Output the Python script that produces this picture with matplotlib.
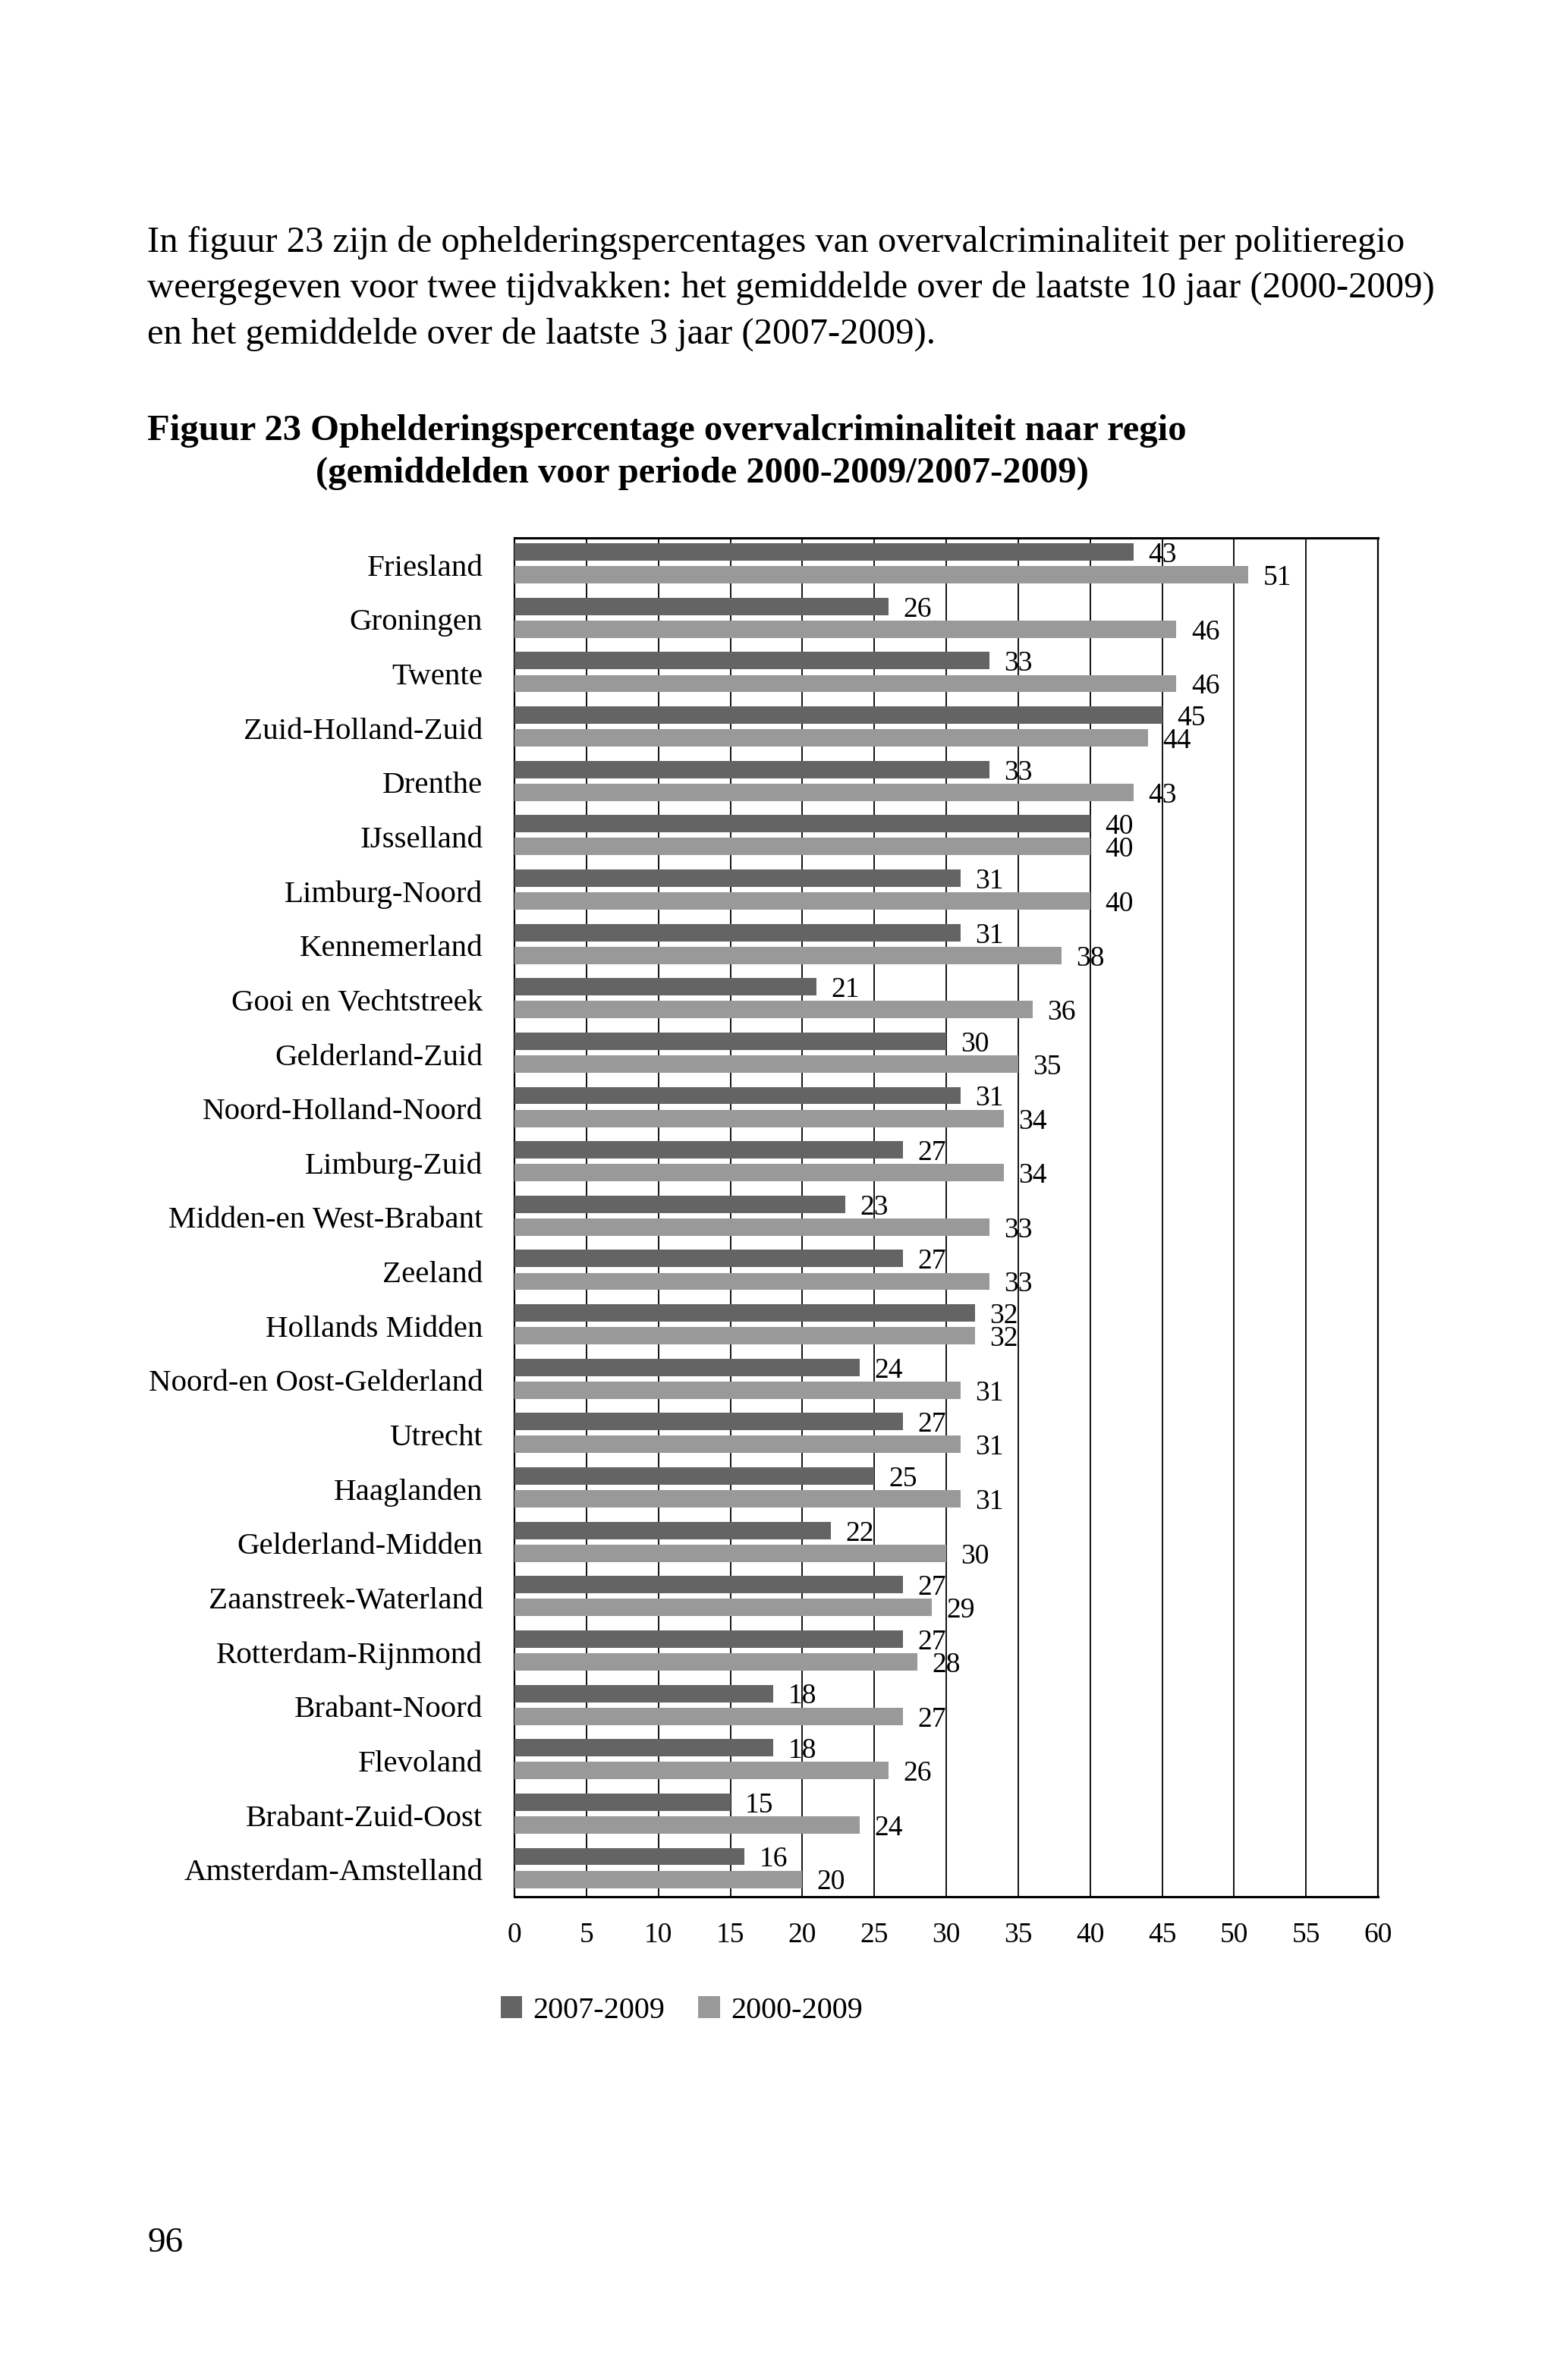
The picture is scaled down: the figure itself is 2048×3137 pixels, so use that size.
import numpy as np
import matplotlib
matplotlib.use('Agg')
import matplotlib.pyplot as plt

plt.rcParams['font.family'] = ['Liberation Serif', 'DejaVu Serif']

regions = ['Friesland', 'Groningen', 'Twente', 'Zuid-Holland-Zuid', 'Drenthe',
           'IJsselland', 'Limburg-Noord', 'Kennemerland', 'Gooi en Vechtstreek',
           'Gelderland-Zuid', 'Noord-Holland-Noord', 'Limburg-Zuid',
           'Midden-en West-Brabant', 'Zeeland', 'Hollands Midden',
           'Noord-en Oost-Gelderland', 'Utrecht', 'Haaglanden', 'Gelderland-Midden',
           'Zaanstreek-Waterland', 'Rotterdam-Rijnmond', 'Brabant-Noord',
           'Flevoland', 'Brabant-Zuid-Oost', 'Amsterdam-Amstelland']
recent = [43, 26, 33, 45, 33, 40, 31, 31, 21, 30, 31, 27, 23, 27, 32, 24, 27, 25,
          22, 27, 27, 18, 18, 15, 16]          # 2007-2009
decade = [51, 46, 46, 44, 43, 40, 40, 38, 36, 35, 34, 34, 33, 33, 32, 31, 31, 31,
          30, 29, 28, 27, 26, 24, 20]          # 2000-2009
xticks = list(range(0, 61, 5))

W, H = 2048, 3137
dark = '#646464'
light = '#999999'

fig = plt.figure(figsize=(W / 100, H / 100), dpi=100)


def fx(x):
    return x / W


def fy(y):
    return 1 - y / H


# page text
body = ['In figuur 23 zijn de ophelderingspercentages van overvalcriminaliteit per politieregio',
        'weergegeven voor twee tijdvakken: het gemiddelde over de laatste 10 jaar (2000-2009)',
        'en het gemiddelde over de laatste 3 jaar (2007-2009).']
for line, yb in zip(body, [332, 392, 453]):
    fig.text(fx(194), fy(yb), line, fontsize=35, va='baseline', ha='left')

fig.text(fx(194), fy(580), 'Figuur 23 Ophelderingspercentage overvalcriminaliteit naar regio',
         fontsize=35, fontweight='bold', va='baseline')
fig.text(fx(416), fy(636), '(gemiddelden voor periode 2000-2009/2007-2009)',
         fontsize=35, fontweight='bold', va='baseline')

fig.text(fx(194), fy(2968), '96', fontsize=34, va='baseline')

# chart
ax = fig.add_axes([fx(678), fy(2500), (1816 - 678) / W, (2500 - 709) / H])
y = np.arange(len(regions))
b1 = ax.barh(y - 0.24, recent, height=0.32, color=dark, zorder=3, label='2007-2009')
b2 = ax.barh(y + 0.18, decade, height=0.32, color=light, zorder=3, label='2000-2009')

for bars, vals in [(b1, recent), (b2, decade)]:
    for rect, v in zip(bars, vals):
        ax.annotate(str(v), (v, rect.get_y() + rect.get_height() / 2),
                    xytext=(14, -3), textcoords='offset points',
                    ha='left', va='center', fontsize=27, zorder=4)

ax.set_xlim(0, 60)
ax.set_ylim(len(regions) - 0.5, -0.5)
ax.set_xticks(xticks)
ax.set_xticklabels([str(t) for t in xticks], fontsize=27)
ax.set_yticks(y)
ax.set_yticklabels(regions, fontsize=29.5)
ax.tick_params(axis='both', length=0)
ax.tick_params(axis='y', pad=30)
ax.tick_params(axis='x', pad=24)
ax.grid(axis='x', color='black', linewidth=1.3, zorder=1)
for s in ax.spines.values():
    s.set_color('black')
    s.set_linewidth(1.6)
ax.spines['top'].set_linewidth(2.2)
ax.spines['bottom'].set_linewidth(2.2)

fig.legend(handles=[b1, b2], loc='center left', bbox_to_anchor=(fx(660), fy(2650)),
           ncol=2, frameon=False, fontsize=29, borderaxespad=0, borderpad=0,
           handlelength=0.7, handleheight=0.7, handletextpad=0.35, columnspacing=1.1)

fig.savefig('out.png', dpi=100)
